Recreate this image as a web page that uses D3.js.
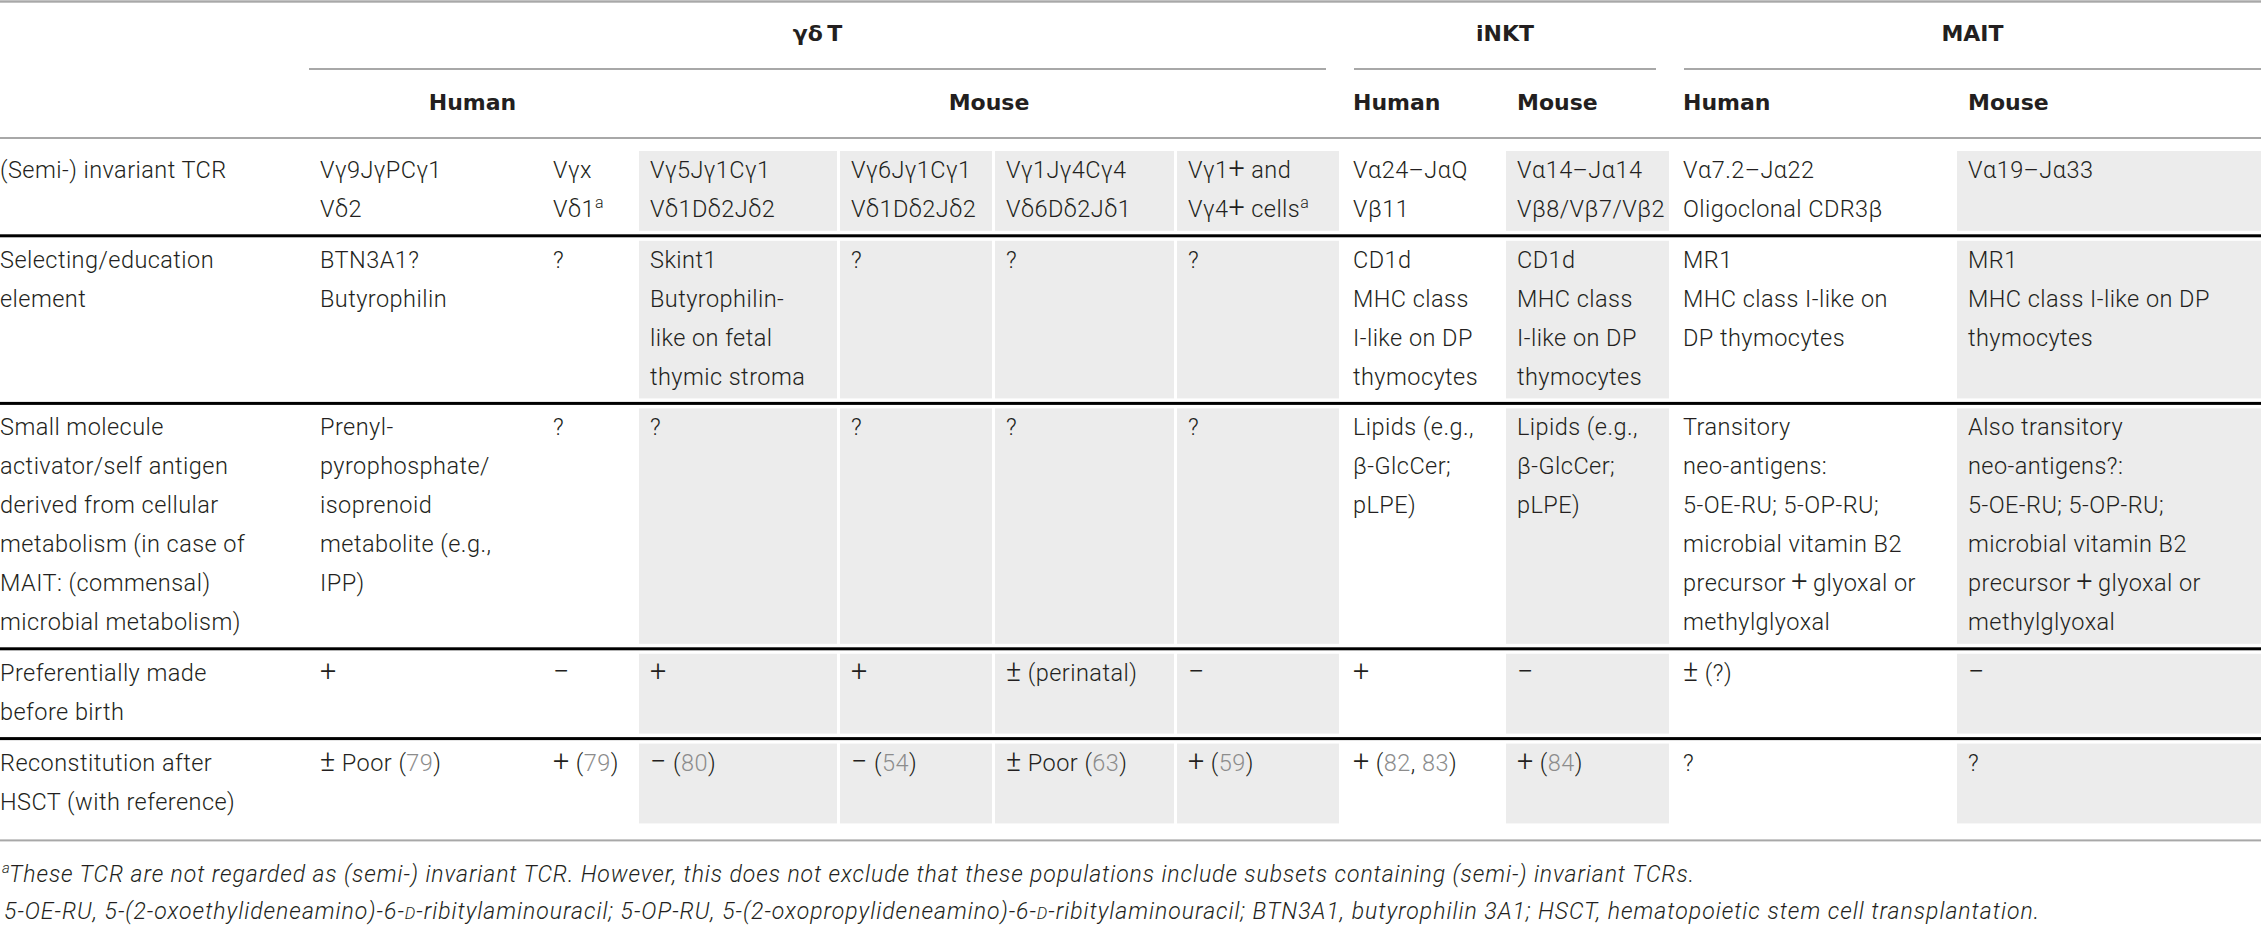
<!DOCTYPE html>
<html>
<head>
<meta charset="utf-8">
<title>Semi-invariant T cells</title>
<script src="https://cdn.jsdelivr.net/npm/d3@7/dist/d3.min.js"></script>
<style>
  body { margin: 0; background: #fff; }
  svg text { font-family: Roboto, "Liberation Sans", sans-serif; }
</style>
</head>
<body>
<script>
// ---- table content ----
var groups = ["γδ\u2009T", "iNKT", "MAIT"];
var groupSpans = [[1, 6], [7, 8], [9, 10]];

var subHeads = ["Human", "Mouse", "Human", "Mouse", "Human", "Mouse"];
var subSpans = [[1, 2], [3, 6], [7, 7], [8, 8], [9, 9], [10, 10]];

var rowLabels = [
  ["(Semi-) invariant TCR"],
  ["Selecting/education", "element"],
  ["Small molecule", "activator/self antigen", "derived from cellular",
   "metabolism (in case of", "MAIT: (commensal)", "microbial metabolism)"],
  ["Preferentially made", "before birth"],
  ["Reconstitution after", "HSCT (with reference)"]
];

// one array per column, one entry per row, lines inside
// ^a = superscript a, {n} = reference number
var cells = [
  [["Vγ9JγPCγ1", "Vδ2"], ["BTN3A1?", "Butyrophilin"],
   ["Prenyl-", "pyrophosphate/", "isoprenoid", "metabolite (e.g.,", "IPP)"], ["+"], ["± Poor ({79})"]],
  [["Vγx", "Vδ1^a"], ["?"], ["?"], ["−"], ["+ ({79})"]],
  [["Vγ5Jγ1Cγ1", "Vδ1Dδ2Jδ2"], ["Skint1", "Butyrophilin-", "like on fetal", "thymic stroma"],
   ["?"], ["+"], ["− ({80})"]],
  [["Vγ6Jγ1Cγ1", "Vδ1Dδ2Jδ2"], ["?"], ["?"], ["+"], ["− ({54})"]],
  [["Vγ1Jγ4Cγ4", "Vδ6Dδ2Jδ1"], ["?"], ["?"], ["± (perinatal)"], ["± Poor ({63})"]],
  [["Vγ1+ and", "Vγ4+ cells^a"], ["?"], ["?"], ["−"], ["+ ({59})"]],
  [["Vα24–JαQ", "Vβ11"], ["CD1d", "MHC class", "I-like on DP", "thymocytes"],
   ["Lipids (e.g.,", "β-GlcCer;", "pLPE)"], ["+"], ["+ ({82}, {83})"]],
  [["Vα14–Jα14", "Vβ8/Vβ7/Vβ2"], ["CD1d", "MHC class", "I-like on DP", "thymocytes"],
   ["Lipids (e.g.,", "β-GlcCer;", "pLPE)"], ["−"], ["+ ({84})"]],
  [["Vα7.2–Jα22", "Oligoclonal CDR3β"], ["MR1", "MHC class I-like on", "DP thymocytes"],
   ["Transitory", "neo-antigens:", "5-OE-RU; 5-OP-RU;", "microbial vitamin B2",
    "precursor\u2009+\u2009glyoxal or", "methylglyoxal"], ["± (?)"], ["?"]],
  [["Vα19–Jα33"], ["MR1", "MHC class I-like on DP", "thymocytes"],
   ["Also transitory", "neo-antigens?:", "5-OE-RU; 5-OP-RU;", "microbial vitamin B2",
    "precursor\u2009+\u2009glyoxal or", "methylglyoxal"], ["−"], ["?"]]
];

// [D] = small capital D
var footMarks = ["a", ""];
var footnotes = [
  "These TCR are not regarded as (semi-) invariant TCR. However, this does not exclude that these populations include subsets containing (semi-) invariant TCRs.",
  "5-OE-RU, 5-(2-oxoethylideneamino)-6-[D]-ribitylaminouracil; 5-OP-RU, 5-(2-oxopropylideneamino)-6-[D]-ribitylaminouracil; BTN3A1, butyrophilin 3A1; HSCT, hematopoietic stem cell transplantation."
];

// ---- layout / style ----
var W = 2261, H = 926;
var colEdges = [0, 309, 542, 639, 840, 995, 1177, 1342, 1506, 1672, 1957, 2261];
var shadedCols = [3, 4, 5, 6, 8, 10];
var textPad = 11, cellGap = 3;
var lineH = 38.9, firstBase = 27, rowExtra = 2, rowGap = 10, bodyTop = 151;
var ink = "#231f20", refInk = "#8c8c8c", shade = "#ececec", ruleGray = "#a8a8a8";
var bodySize = 23.5, bodySpacing = 0.45;

var x = d3.scaleOrdinal().domain(d3.range(colEdges.length)).range(colEdges);
function textX(c) { return c === 0 ? 0 : x(c) + textPad; }

// rows sized by their tallest cell
var nLines = rowLabels.map(function(lab, r) {
  return d3.max([lab.length].concat(cells.map(function(col) { return col[r].length; })));
});
var rowTops = [bodyTop];
nLines.forEach(function(n, r) {
  rowTops.push(rowTops[r] + n * lineH + rowExtra + rowGap);
});
var y = d3.scaleOrdinal().domain(d3.range(nLines.length)).range(rowTops);
function rowBottom(r) { return y(r) + nLines[r] * lineH + rowExtra; }

var svg = d3.select("body").append("svg")
  .attr("width", W).attr("height", H);

// write one line with markup into a text element
function writeLine(g, str, xx, yy, bigSigns) {
  var t = g.append("text").attr("x", xx).attr("y", yy);
  var re = bigSigns ? /(\^a|\{[^}]*\}|\[D\]|[+−±])/ : /(\^a|\{[^}]*\}|\[D\])/;
  var parts = str.split(re).filter(function(s) { return s.length; });
  var shift = 0;
  parts.forEach(function(p) {
    var ts = t.append("tspan");
    if (p === "^a") {
      ts.attr("dy", -9).attr("font-size", "0.68em").text("a");
      shift = 9;
      return;
    }
    if (shift) { ts.attr("dy", shift); shift = 0; }
    if (p === "[D]") ts.attr("font-size", "0.72em").text("D");
    else if (p[0] === "{") ts.attr("fill", refInk).text(p.slice(1, -1));
    else if (bigSigns && /^[+−±]$/.test(p)) ts.attr("font-size", "1.22em").text(p);
    else ts.text(p);
  });
  return t;
}

// ---- shaded cells ----
var shadeData = [];
shadedCols.forEach(function(c) {
  nLines.forEach(function(n, r) { shadeData.push({c: c, r: r}); });
});
svg.append("g").selectAll("rect")
  .data(shadeData)
  .enter().append("rect")
    .attr("x", function(d) { return x(d.c); })
    .attr("y", function(d) { return y(d.r); })
    .attr("width", function(d) {
      var right = d.c + 1 === colEdges.length - 1 ? W : x(d.c + 1) - cellGap;
      return right - x(d.c);
    })
    .attr("height", function(d) { return rowBottom(d.r) - y(d.r); })
    .attr("fill", shade);

// ---- rules ----
var rules = svg.append("g");
rules.append("rect").attr("x", 0).attr("y", 0.3).attr("width", W).attr("height", 2.4).attr("fill", ruleGray);
rules.append("rect").attr("x", 0).attr("y", 137).attr("width", W).attr("height", 2).attr("fill", ruleGray);
var groupRule = groupSpans.map(function(s) {
  var x0 = s[0] === 1 ? x(1) : x(s[0]) + 12;
  var x1 = s[1] + 1 === colEdges.length - 1 ? W : x(s[1] + 1) - 16;
  return [x0, x1];
});
rules.selectAll("rect.grp")
  .data(groupRule)
  .enter().append("rect").attr("class", "grp")
    .attr("x", function(d) { return d[0]; })
    .attr("y", 68)
    .attr("width", function(d) { return d[1] - d[0]; })
    .attr("height", 2)
    .attr("fill", ruleGray);
rules.selectAll("rect.thick")
  .data(d3.range(nLines.length - 1))
  .enter().append("rect").attr("class", "thick")
    .attr("x", 0)
    .attr("y", function(r) { return rowBottom(r) + 3.5; })
    .attr("width", W)
    .attr("height", 3)
    .attr("fill", "#000");
rules.append("rect").attr("x", 0)
  .attr("y", rowBottom(nLines.length - 1) + 16)
  .attr("width", W).attr("height", 2).attr("fill", ruleGray);

// ---- headers ----
var head = svg.append("g")
  .attr("font-weight", "bold")
  .attr("font-size", 22)
  .attr("fill", ink);
head.selectAll("text.grp")
  .data(groups)
  .enter().append("text").attr("class", "grp")
    .attr("x", function(d, i) { return (groupRule[i][0] + groupRule[i][1]) / 2; })
    .attr("y", 41)
    .attr("text-anchor", "middle")
    .style("font-family", "'DejaVu Sans', sans-serif")
    .text(function(d) { return d; });
head.selectAll("text.sub")
  .data(subHeads)
  .enter().append("text").attr("class", "sub")
    .attr("x", function(d, i) {
      var s = subSpans[i];
      return s[0] === s[1] ? textX(s[0]) : (x(s[0]) + x(s[1] + 1) - cellGap) / 2;
    })
    .attr("y", 110)
    .attr("text-anchor", function(d, i) { return subSpans[i][0] === subSpans[i][1] ? "start" : "middle"; })
    .style("font-family", "'DejaVu Sans', sans-serif")
    .text(function(d) { return d; });

// ---- body text ----
var body = svg.append("g")
  .attr("font-size", bodySize)
  .attr("font-weight", 300)
  .attr("letter-spacing", bodySpacing)
  .attr("fill", ink);

var columns = [rowLabels].concat(cells);
columns.forEach(function(col, c) {
  col.forEach(function(lines, r) {
    lines.forEach(function(line, k) {
      writeLine(body, line, textX(c), y(r) + firstBase + k * lineH, c > 0);
    });
  });
});

// ---- footnotes ----
var foot = svg.append("g")
  .attr("font-size", 23)
  .attr("font-weight", 300)
  .attr("font-style", "italic")
  .attr("fill", ink);
var footX = [9, 4], footEnd = [1694, 2039];
var footBase = rowBottom(nLines.length - 1) + 59;
footnotes.forEach(function(f, i) {
  var yy = footBase + i * 36.5;
  if (footMarks[i]) {
    foot.append("text").attr("x", 2).attr("y", yy - 9)
      .attr("font-size", 15).text(footMarks[i]);
  }
  // spread each note over the same width as in print
  writeLine(foot, f, footX[i], yy, false)
    .attr("textLength", footEnd[i] - footX[i])
    .attr("lengthAdjust", "spacing");
});
</script>
</body>
</html>
